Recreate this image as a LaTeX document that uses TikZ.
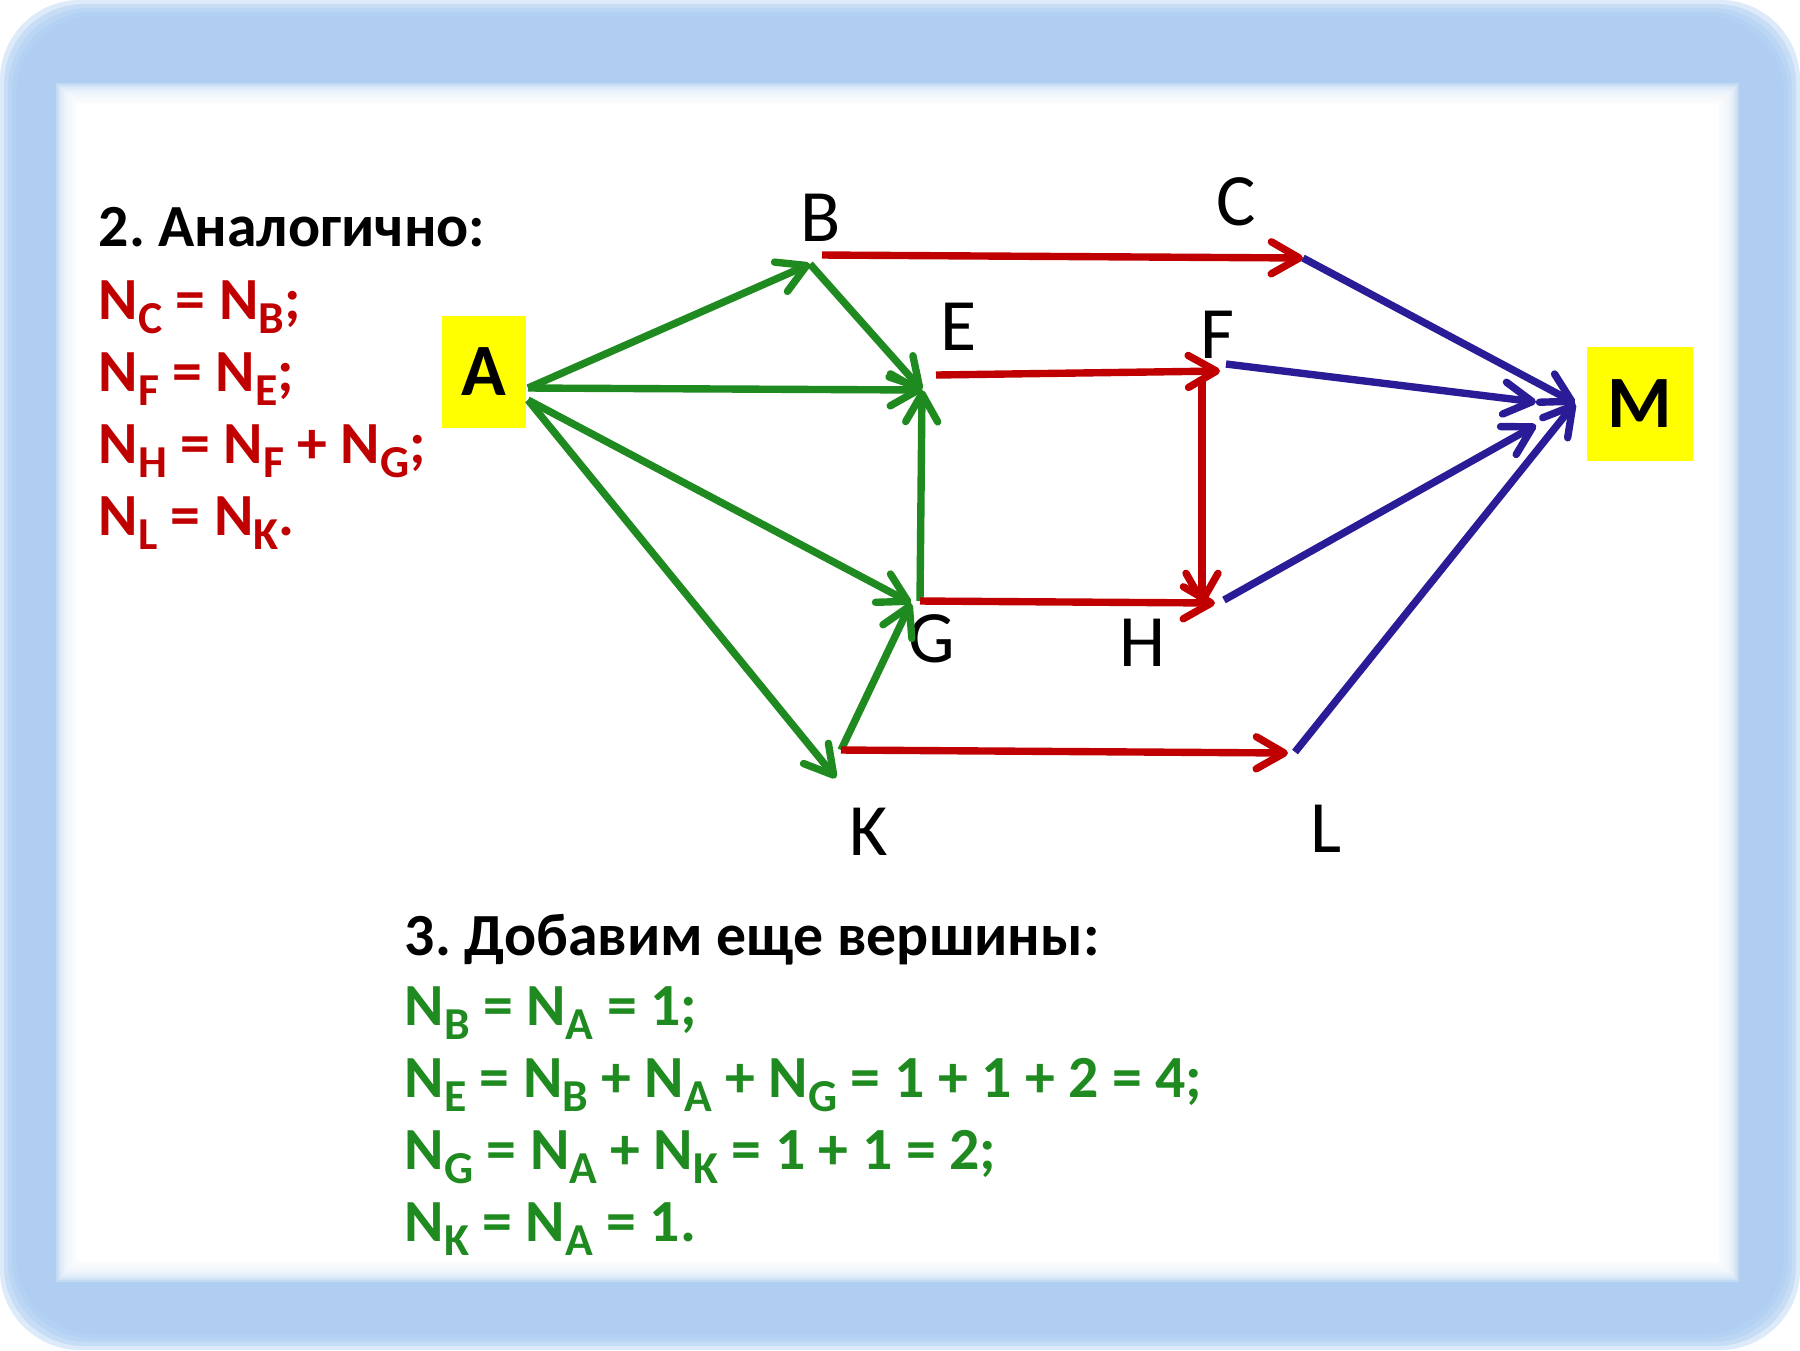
\documentclass[tikz,border=0pt]{standalone}
\usepackage{fontspec}
\setmainfont{Carlito}
\usetikzlibrary{arrows.meta}
\definecolor{frameBlue}{HTML}{A9CBF2}
\definecolor{eqRed}{HTML}{C00000}
\definecolor{eqGreen}{HTML}{1F8A1F}
\definecolor{edgeBlue}{HTML}{2A1C96}
\definecolor{boxYellow}{HTML}{FFFF00}
\newcommand{\idx}[1]{\raisebox{-4.2pt}{\fontsize{13}{13}\selectfont #1}}
\frenchspacing

\begin{document}
\begin{tikzpicture}[
  x=0.01cm, y=-0.01cm,
  txt/.style={anchor=base west, inner sep=0pt, font=\fontsize{17}{20}\selectfont\bfseries},
  redeq/.style={txt, text=eqRed},
  greq/.style={txt, text=eqGreen},
  vlabel/.style={inner sep=0pt, font=\fontsize{21}{21}\selectfont},
  term/.style={rectangle, fill=boxYellow, inner sep=0pt, font=\fontsize{21}{21}\selectfont\bfseries},
  arr/.style={-{Straight Barb[length=2.8mm, width=3.2mm, round]}, line width=2.1pt},
  garr/.style={arr, draw=eqGreen},
  rarr/.style={arr, draw=eqRed},
  barr/.style={arr, draw=edgeBlue}
]
\useasboundingbox (0,0) rectangle (1800,1350);

% frame
\fill[white] (0,0) rectangle (1800,1350);
\foreach \d in {0,4,...,16}
  \fill[frameBlue, opacity=0.4, rounded corners=0.8cm] (\d,\d) rectangle (1800-\d,1350-\d);
\foreach \d in {0,2,...,18}
  \fill[white, opacity=0.25] (56+\d,83+\d) rectangle (1739-\d,1282-\d);
\fill[white] (76,103) rectangle (1719,1262);

% text blocks
\node[txt]   (headTop) at (98,246) {2. Аналогично:};
\node[redeq] (eqC) at (98,319) {N\idx{C} = N\idx{B};};
\node[redeq] (eqF) at (98,391) {N\idx{F} = N\idx{E};};
\node[redeq] (eqH) at (98,463) {N\idx{H} = N\idx{F} + N\idx{G};};
\node[redeq] (eqL) at (98,535) {N\idx{L} = N\idx{K}.};

\node[txt]  (headBot) at (404,955) {3. Добавим еще вершины:};
\node[greq] (eqB) at (404,1025) {N\idx{B} = N\idx{A} = 1;};
\node[greq] (eqE) at (404,1097) {N\idx{E} = N\idx{B} + N\idx{A} + N\idx{G} = 1 + 1 + 2 = 4;};
\node[greq] (eqG) at (404,1169) {N\idx{G} = N\idx{A} + N\idx{K} = 1 + 1 = 2;};
\node[greq] (eqK) at (404,1241) {N\idx{K} = N\idx{A} = 1.};

% start and end
\node[term, minimum width=0.84cm, minimum height=1.12cm] (A) at (484,372) {A};
\node[term, minimum width=1.05cm, minimum height=1.14cm] (M) at (1640,404) {M};

% vertex labels
\node[vlabel] (labB) at (821,218) {B};
\node[vlabel] (labC) at (1236,202) {C};
\node[vlabel] (labE) at (959,327) {E};
\node[vlabel] (labF) at (1217,335) {F};
\node[vlabel] (labG) at (932,639) {G};
\node[vlabel] (labH) at (1142,643) {H};
\node[vlabel] (labK) at (869,832) {K};
\node[vlabel] (labL) at (1326,829) {L};

% vertex points
\coordinate (vA1) at (528,388);
\coordinate (vA2) at (528,400);
\coordinate (vB)  at (810,264);
\coordinate (vBo) at (822,255);
\coordinate (vC)  at (1303,258);
\coordinate (vE)  at (922,390);
\coordinate (vEo) at (936,375);
\coordinate (vF)  at (1220,371);
\coordinate (vFo) at (1226,364);
\coordinate (vFd) at (1202,377);
\coordinate (vG)  at (911,603);
\coordinate (vGo) at (920,601);
\coordinate (vH)  at (1215,603);
\coordinate (vHd) at (1202,605);
\coordinate (vHo) at (1224,600);
\coordinate (vK)  at (836,778);
\coordinate (vKo) at (841,750);
\coordinate (vL)  at (1288,753);
\coordinate (vLo) at (1295,752);
\coordinate (vM1) at (1575,403);
\coordinate (vM2) at (1536,402);
\coordinate (vM3) at (1536,425);

% green edges
\draw[garr] (vA1) -- (vB);
\draw[garr] (vA1) -- (vE);
\draw[garr] (vA2) -- (vG);
\draw[garr] (vA2) -- (vK);
\draw[garr] (vB)  -- (vE);
\draw[garr] (vKo) -- (vG);
\draw[garr] (vGo) -- (vE);

% red edges
\draw[rarr] (vBo) -- (vC);
\draw[rarr] (vEo) -- (vF);
\draw[rarr] (vFd) -- (vHd);
\draw[rarr] (vGo) -- (vH);
\draw[rarr] (vKo) -- (vL);

% blue edges
\draw[barr] (vC)  -- (vM1);
\draw[barr] (vFo) -- (vM2);
\draw[barr] (vHo) -- (vM3);
\draw[barr] (vLo) -- (vM1);

\end{tikzpicture}
\end{document}
